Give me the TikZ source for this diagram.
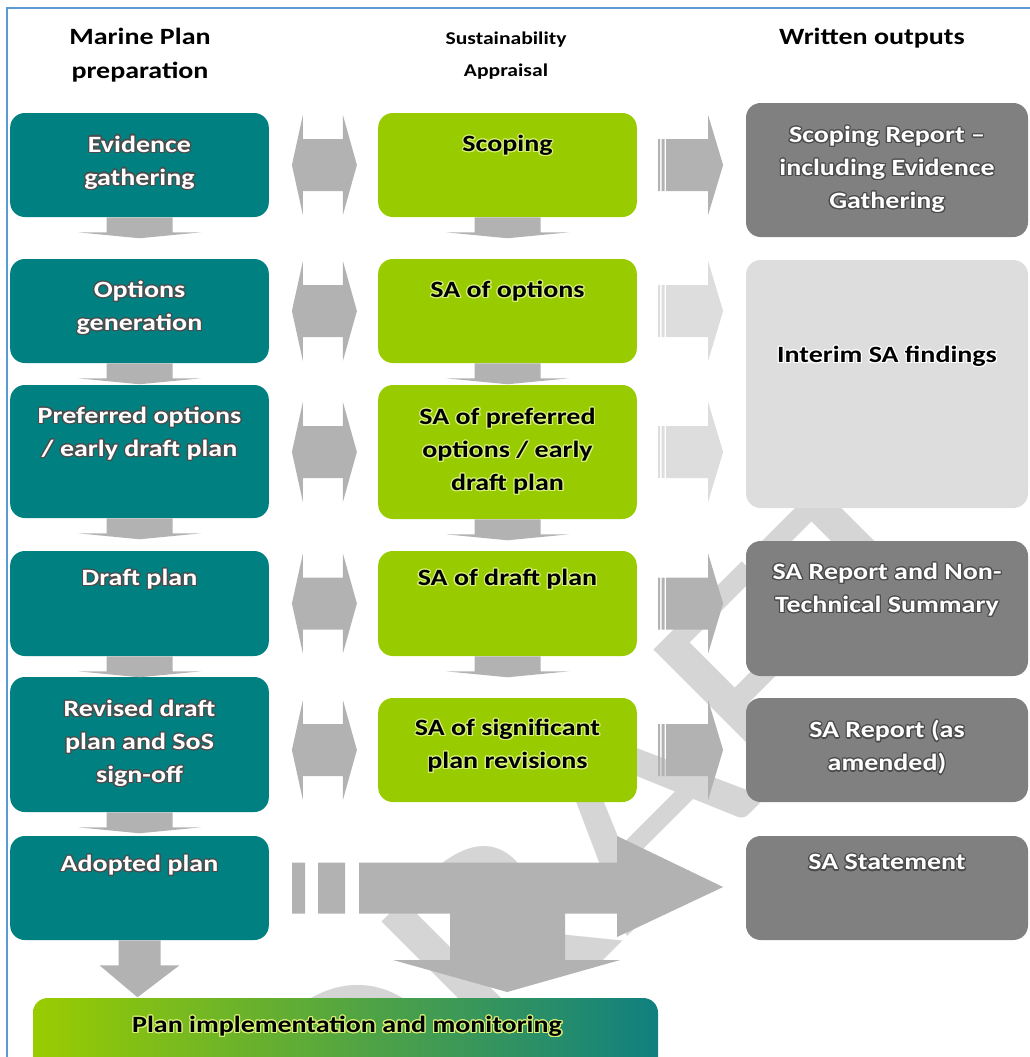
\documentclass[tikz,border=0pt]{standalone}
\usepackage{fontspec}
\setmainfont{Carlito}[FakeStretch=1.2]
\usepackage[copies]{contour}
\contourlength{0.9pt}
\usetikzlibrary{calc}

\definecolor{planteal}{RGB}{0,128,128}
\definecolor{barteal}{RGB}{16,128,128}
\definecolor{sagreen}{RGB}{153,204,0}
\definecolor{glowgreen}{RGB}{214,240,120}
\definecolor{outgray}{RGB}{128,128,128}
\definecolor{interimgray}{RGB}{221,221,221}
\definecolor{arrowgray}{RGB}{178,178,178}
\definecolor{lightarrow}{RGB}{221,221,221}
\definecolor{wmgray}{RGB}{213,213,213}
\definecolor{frameblue}{RGB}{91,155,213}

\newcommand\glowdark[1]{\contour{black!70}{#1}}
\newcommand\glowlight[1]{\contour{glowgreen}{#1}}
\newcommand\glowwhite[1]{\contour{white}{#1}}

\tikzset{
  box/.style={rounded corners=11pt, inner sep=0pt},
  planbox/.style={box, fill=planteal, minimum width=194pt},
  sabox/.style={box, fill=sagreen, minimum width=194pt},
  outbox/.style={box, fill=outgray, minimum width=211.5pt},
  boxfont/.style={font=\bfseries\fontsize{17.5}{24.75}\selectfont, align=center, inner sep=0pt},
  wtext/.style={boxfont, text=white},
  btext/.style={boxfont, text=black},
  head/.style={font=\bfseries\fontsize{17.5}{25.5}\selectfont, align=center},
  subhead/.style={font=\bfseries\fontsize{13.5}{24}\selectfont, align=center},
  wm/.style={text=wmgray, font=\fontsize{215}{215}\selectfont, rotate=45, inner sep=0pt}
}

\begin{document}
\begin{tikzpicture}[x=0.75pt, y=-0.75pt]
  \useasboundingbox (0,0) rectangle (1030,1057);
  \clip (0,0) rectangle (1030,1057);
  \node[wm] (draft) at (606,828) {DRAFT};

  \node[head] (colplan) at (140,55) {Marine Plan\\preparation};
  \node[subhead] (colsa) at (506,56) {Sustainability\\Appraisal};
  \node[head] (colout) at (872,38) {Written outputs};

  \node[planbox, minimum height=78pt] (evidence) at (139.5,165) {};
  \node[planbox, minimum height=78pt] (options) at (139.5,311) {};
  \node[planbox, minimum height=99.75pt] (preferred) at (139.5,451.5) {};
  \node[planbox, minimum height=78.75pt] (draftplan) at (139.5,603.5) {};
  \node[planbox, minimum height=101.25pt] (revised) at (139.5,744.5) {};
  \node[planbox, minimum height=78pt] (adopted) at (139.5,888) {};

  \node[sabox, minimum height=78pt] (scoping) at (507.5,165) {};
  \node[sabox, minimum height=78pt] (saoptions) at (507.5,311) {};
  \node[sabox, minimum height=100.5pt] (sapreferred) at (507.5,452) {};
  \node[sabox, minimum height=78.75pt] (sadraft) at (507.5,603.5) {};
  \node[sabox, minimum height=78pt] (sarevisions) at (507.5,750) {};

  \node[outbox, minimum height=100.5pt] (scopingreport) at (887,170) {};
  \node[box, fill=interimgray, minimum width=211.5pt, minimum height=186pt] (interim) at (887,384) {};
  \node[outbox, minimum height=101.25pt] (ntsummary) at (887,608.5) {};
  \node[outbox, minimum height=78pt] (amended) at (887,750) {};
  \node[outbox, minimum height=78pt] (statement) at (887,888) {};

  \node[box, left color=sagreen, right color=barteal, minimum width=468.75pt, minimum height=61.5pt] (monitoring) at (345.5,1039) {};

  \foreach \a in {evidence, options, preferred, draftplan, revised, scoping, saoptions, sapreferred, sadraft}
    \fill[arrowgray, shift={(\a.south)}] (-33,0) rectangle (33,15) (-62,15) -- (62,15) -- (0,21) -- cycle;

  \foreach \b in {scoping, saoptions, sapreferred, sadraft, sarevisions}
    \fill[arrowgray, shift={(\b.west)}] (-86,0) -- (-75,-50) -- (-75,-26) -- (-35,-26) -- (-35,-50) -- (-21,0)
      -- (-35,50) -- (-35,26) -- (-75,26) -- (-75,50) -- cycle;

  \foreach \a/\c in {scoping/arrowgray, saoptions/lightarrow, sapreferred/lightarrow, sadraft/arrowgray, sarevisions/arrowgray}
    \fill[\c, shift={(\a.east)}] (21,-26) rectangle (23,26) (24.5,-26) rectangle (27.5,26)
      (29,-26) -- (71,-26) -- (71,-50) -- (86,0) -- (71,50) -- (71,26) -- (29,26) -- cycle;

  \fill[arrowgray, shift={(adopted.east)}] (23,-25.5) rectangle (36,25.5) (49,-25.5) rectangle (76,25.5)
    (90,-25.5) -- (348,-25.5) -- (348,-52) -- (454,-1) -- (348,49) -- (348,25.5) -- (296,25.5) -- (296,72)
    -- (351,72) -- (238,104) -- (124,72) -- (181,72) -- (181,25.5) -- (90,25.5) -- cycle;
  \fill[arrowgray, shift={(adopted.south)}] (-21,0) rectangle (21,25) (-40,25) -- (40,25) -- (-2,57) -- cycle;

  \node[wtext] (evidence-t) at (139.5,163) {\glowdark{Evidence}\\\glowdark{gathering}};
  \node[wtext] (options-t) at (139.5,308.5) {\glowdark{Options}\\\glowdark{generation}};
  \node[wtext] (preferred-t) at (139.5,434) {\glowdark{Preferred options}\\\glowdark{/ early draft plan}};
  \node[wtext] (draftplan-t) at (139.5,580) {\glowdark{Draft plan}};
  \node[wtext] (revised-t) at (139.5,744) {\glowdark{Revised draft}\\\glowdark{plan and SoS}\\\glowdark{sign-off}};
  \node[wtext] (adopted-t) at (139.5,866) {\glowdark{Adopted plan}};

  \node[btext] (scoping-t) at (507.5,146) {\glowlight{Scoping}};
  \node[btext] (saoptions-t) at (507.5,292) {\glowlight{SA of options}};
  \node[btext] (sapreferred-t) at (507.5,452) {\glowlight{SA of preferred}\\\glowlight{options / early}\\\glowlight{draft plan}};
  \node[btext] (sadraft-t) at (507.5,580) {\glowlight{SA of draft plan}};
  \node[btext] (sarevisions-t) at (507.5,746.5) {\glowlight{SA of significant}\\\glowlight{plan revisions}};

  \node[wtext] (scopingreport-t) at (887,170) {\glowdark{Scoping Report --}\\\glowdark{including Evidence}\\\glowdark{Gathering}};
  \node[btext] (interim-t) at (887,357) {\glowwhite{Interim SA findings}};
  \node[wtext] (ntsummary-t) at (887,590.5) {\glowdark{SA Report and Non-}\\\glowdark{Technical Summary}};
  \node[wtext] (amended-t) at (887,748) {\glowdark{SA Report (as}\\\glowdark{amended)}};
  \node[wtext] (statement-t) at (887,863) {\glowdark{SA Statement}};
  \node[btext] (monitoring-t) at (347,1027) {\glowlight{Plan implementation and monitoring}};

  \draw[frameblue, line width=1.1pt] (7,1057) -- (7,8) -- (1030,8);
\end{tikzpicture}
\end{document}
